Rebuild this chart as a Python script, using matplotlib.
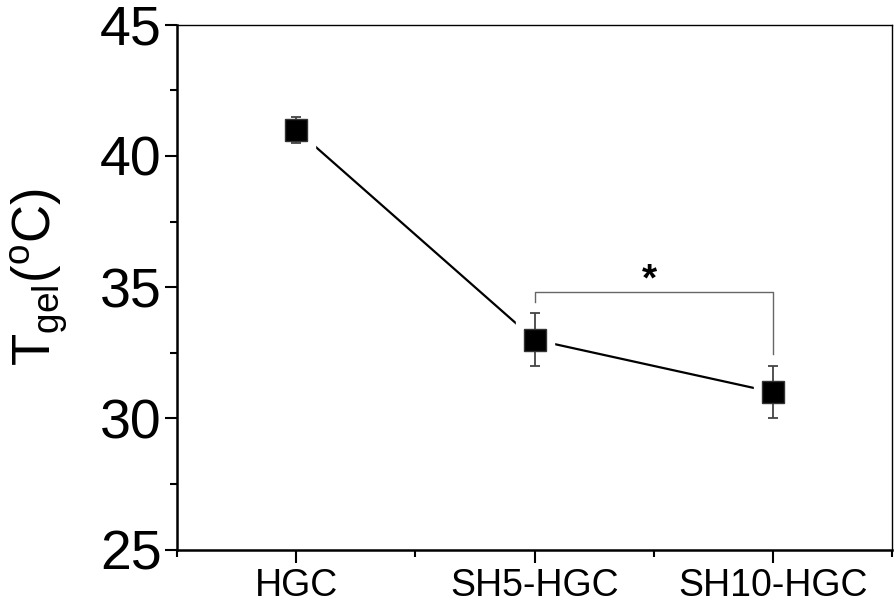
import numpy as np
import matplotlib.pyplot as plt
from matplotlib.ticker import MultipleLocator

plt.rcParams['font.family'] = ['Liberation Sans', 'DejaVu Sans']
plt.rcParams['mathtext.fontset'] = 'custom'
plt.rcParams['mathtext.rm'] = 'Liberation Sans'

samples = ['HGC', 'SH5-HGC', 'SH10-HGC']
t_gel = [41.0, 33.0, 31.0]
t_err = [0.5, 1.0, 1.0]
pos = np.arange(1, len(samples) + 1)

fig = plt.figure(figsize=(8.94, 6.04), dpi=100)
ax = fig.add_axes([0.198, 0.09, 0.8, 0.869])

ax.plot(pos, t_gel, color='black', lw=1.6, zorder=1)
# white halo so the line stops short of each marker
ax.plot(pos, t_gel, ls='none', marker='s', ms=28, mfc='white', mec='white', zorder=2)
ax.errorbar(pos, t_gel, yerr=t_err, fmt='none', ecolor='#444444', elinewidth=1.3,
            capsize=3.8, capthick=1.3, zorder=3)
ax.plot(pos, t_gel, ls='none', marker='s', ms=16, mfc='black', mec='#333333', zorder=4)

# significance bracket between SH5-HGC and SH10-HGC
ax.plot([2, 2, 3, 3], [34.45, 34.82, 34.82, 32.45], color='#666666', lw=1.0)
ax.text(2.48, 35.25, '*', ha='center', va='center', fontsize=28, fontweight='bold')

ax.set_xlim(0.5, 3.5)
ax.set_ylim(25, 45)
ax.set_xticks(pos)
ax.set_xticklabels(samples)
ax.xaxis.set_minor_locator(MultipleLocator(0.5))
ax.yaxis.set_major_locator(MultipleLocator(5))
ax.yaxis.set_minor_locator(MultipleLocator(2.5))
ax.tick_params(which='both', direction='out', width=1.5, top=False, right=False)
ax.tick_params(which='major', length=9)
ax.tick_params(which='minor', length=5)
ax.tick_params(axis='y', labelsize=40, pad=2)
ax.tick_params(axis='x', labelsize=27, pad=4)
for side in ['left', 'bottom']:
    ax.spines[side].set_linewidth(1.8)
for side in ['top', 'right']:
    ax.spines[side].set_linewidth(1.0)

ax.set_ylabel(r'T$_{\rm gel}$($^{\rm o}$C)', fontsize=38)
ax.yaxis.set_label_coords(-0.15, 0.52)

plt.savefig('out.png', dpi=100)
